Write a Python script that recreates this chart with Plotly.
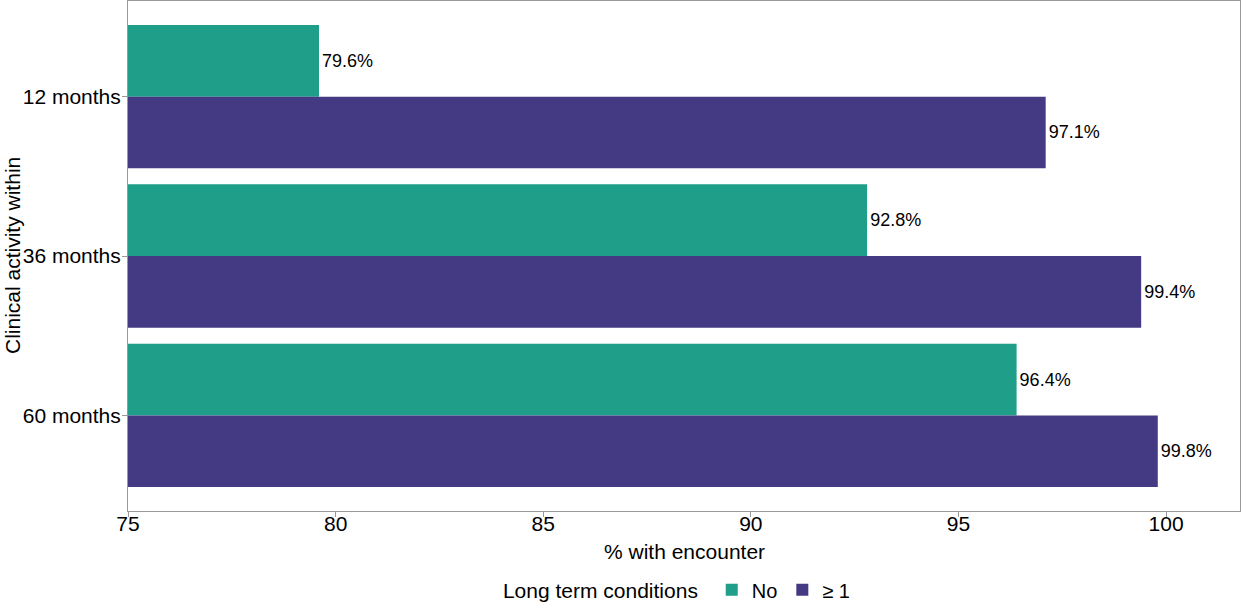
import plotly.graph_objects as go

# ---------- Data ----------
periods = ["12 months", "36 months", "60 months"]
pct_no = [79.6, 92.8, 96.4]
pct_ltc = [97.1, 99.4, 99.8]
group_names = ["No", "≥ 1"]
colors = ["#1F9E89", "#443A83"]
AXIS_START = 75

FONT = "Liberation Sans, Arial, sans-serif"

fig = go.Figure()
for name, vals, col in zip(group_names, [pct_no, pct_ltc], colors):
    # bars are drawn from 75 (axis start), so length = value - 75
    fig.add_trace(go.Bar(
        y=periods, x=[v - AXIS_START for v in vals], base=AXIS_START,
        orientation="h", name=name,
        marker=dict(color=col, line=dict(width=0)),
        text=[f"{v:.1f}%" for v in vals], textposition="outside",
        textfont=dict(size=18, color="black", family=FONT),
        cliponaxis=False,
    ))

# axis titles as annotations so they sit where the reference has them
fig.add_annotation(text="Clinical activity within", xref="paper", yref="paper",
                   x=0, y=0.5, xanchor="center", yanchor="middle", xshift=-116,
                   textangle=-90, showarrow=False, font=dict(size=21))
fig.add_annotation(text="% with encounter", xref="paper", yref="paper",
                   x=0.5, y=0, xanchor="center", yanchor="middle", yshift=-40,
                   showarrow=False, font=dict(size=21))

fig.update_layout(
    barmode="group", bargap=0.1, bargroupgap=0,
    width=1242, height=603,
    margin=dict(l=128, r=2, t=1, b=92),
    plot_bgcolor="white", paper_bgcolor="white",
    font=dict(family=FONT, size=21, color="black"),
    legend=dict(orientation="h", x=0.495, xanchor="center",
                yref="container", y=0.022, yanchor="middle",
                title=dict(text="Long term conditions ", side="left",
                           font=dict(size=21)),
                font=dict(size=20), traceorder="normal"),
    xaxis=dict(range=[75, 101.78], tickvals=[75, 80, 85, 90, 95, 100],
               showgrid=False, zeroline=False, showline=True, mirror=True,
               linecolor="#999999", linewidth=1, ticks="outside", ticklen=5,
               tickcolor="#999999", tickfont=dict(size=21), automargin=False,
               ticklabelstandoff=-11),
    yaxis=dict(type="category", range=[2.6, -0.6],
               showgrid=False, zeroline=False, showline=True, mirror=True,
               linecolor="#999999", linewidth=1, ticks="outside", ticklen=5,
               tickcolor="#999999", tickfont=dict(size=21), automargin=False,
               ticklabelstandoff=-3),
)

fig.write_html("out.html", config={"displayModeBar": False},
               post_script="document.body.style.margin='0';")
